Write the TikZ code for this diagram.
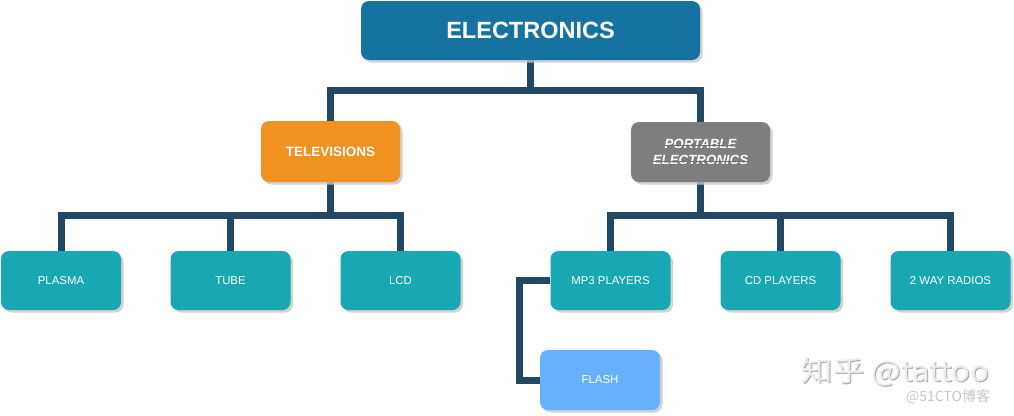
\documentclass[tikz,border=0pt]{standalone}
\usepackage{fontspec}
\setmainfont{Liberation Sans}
\newfontfamily\cjk{Noto Sans CJK SC}
\usetikzlibrary{shadows,backgrounds}
\definecolor{topblue}{HTML}{1672A1}
\definecolor{tvorange}{HTML}{F0921F}
\definecolor{portgray}{HTML}{7E7E7E}
\definecolor{leafteal}{HTML}{17A8B4}
\definecolor{flashblue}{HTML}{66B0FC}
\definecolor{linknavy}{HTML}{234866}
\definecolor{wmlight}{HTML}{EDEDED}
\definecolor{wmdark}{HTML}{A8A8A8}
\newlength\strikelen
\newcommand\darkstrike[1]{\settowidth{\strikelen}{#1}#1\llap{\textcolor{black!55}{\rule[0.42ex]{\strikelen}{0.7pt}}}}
\tikzset{
  boxbase/.style={rounded corners=8pt, text=white, align=center, inner sep=0pt,
    drop shadow={shadow xshift=2.5pt, shadow yshift=-2.5pt, fill=black!22, opacity=0.8}},
  topbox/.style={boxbase, fill=topblue, minimum width=339pt, minimum height=59pt,
    font=\fontsize{23.5}{28}\selectfont\bfseries},
  midbox/.style={boxbase, minimum width=139pt, minimum height=61pt,
    font=\fontsize{13.5}{17}\selectfont\bfseries},
  leafbox/.style={boxbase, fill=leafteal, minimum width=120pt, minimum height=59pt,
    font=\fontsize{11.4}{14}\selectfont},
  link/.style={draw=linknavy, line width=7pt, line join=miter},
  wm/.style={inner sep=0pt, anchor=west}
}
\begin{document}
\begin{tikzpicture}[x=1pt,y=-1pt]
\useasboundingbox (0,0) rectangle (1014,415);
% nodes
\node[topbox] (top) at (530.5,30.5) {ELECTRONICS};
\node[midbox, fill=tvorange] (tv) at (330.5,151.5) {TELEVISIONS};
\node[midbox, fill=portgray, minimum height=60pt, font=\fontsize{13.3}{17}\selectfont\bfseries\itshape] (port) at (700.5,152)
  {\darkstrike{PORTABLE}\\[-1pt]\darkstrike{ELECTRONICS}};
\node[leafbox] (plasma) at (61,280.5) {PLASMA};
\node[leafbox] (tube) at (230.5,280.5) {TUBE};
\node[leafbox] (lcd) at (400.5,280.5) {LCD};
\node[leafbox] (mp3) at (610.5,280.5) {MP3 PLAYERS};
\node[leafbox] (cd) at (780.5,280.5) {CD PLAYERS};
\node[leafbox] (radio) at (950.5,280.5) {2 WAY RADIOS};
\node[leafbox, fill=flashblue, minimum height=60pt] (flash) at (600,380) {FLASH};
% connectors
\coordinate (b1) at (530.5,90);
\coordinate (b2) at (330.5,215);
\coordinate (b3) at (700.5,215);
\begin{pgfonlayer}{background}
\fill[white] (0,0) rectangle (1014,415);
\draw[link] (top.south) -- (b1) -| (tv.north);
\draw[link] (b1) -| (port.north);
\draw[link] (tv.south) -- (b2) -| (plasma.north);
\draw[link] (b2) -| (tube.north);
\draw[link] (b2) -| (lcd.north);
\draw[link] (port.south) -- (b3) -| (mp3.north);
\draw[link] (b3) -| (cd.north);
\draw[link] (b3) -| (radio.north);
\draw[link] (mp3.west) -- ++(-31,0) |- (flash.west);
\end{pgfonlayer}
% watermark
\node[wm, text=wmdark, xscale=1.12] (wm1s) at (802.5,373.5) {\cjk\fontsize{28}{30}\selectfont 知乎 @tattoo};
\node[wm, text=wmlight, xscale=1.12] (wm1) at (801.5,372.5) {\cjk\fontsize{28}{30}\selectfont 知乎 @tattoo};
\node[wm, text=black!22] (wm2) at (906,397) {\cjk\fontsize{14}{16}\selectfont @51CTO博客};
\end{tikzpicture}
\end{document}
